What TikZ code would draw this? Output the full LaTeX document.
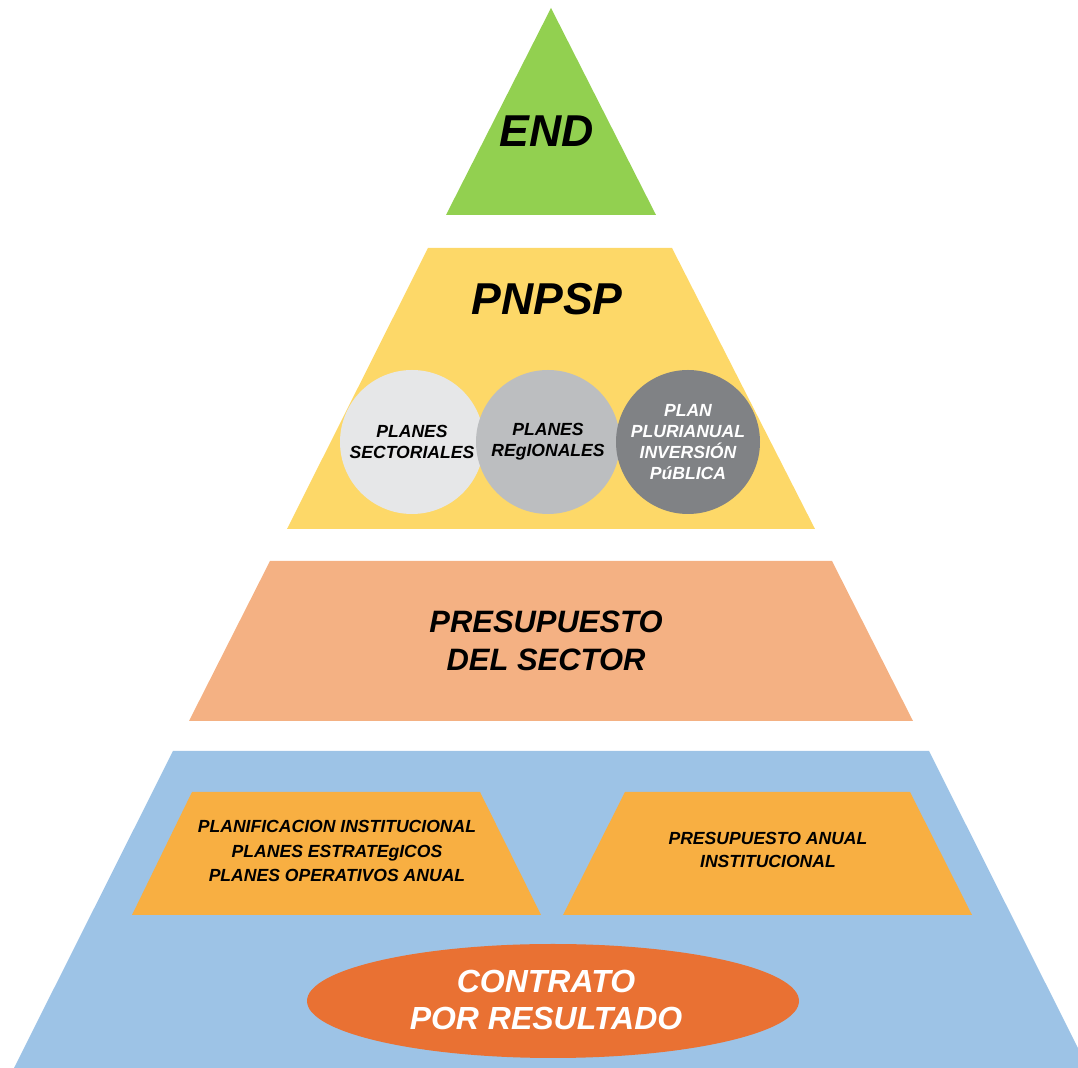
\documentclass[tikz,border=0pt]{standalone}
\usepackage{fontspec}
\setmainfont{Liberation Sans}
\usepackage{xcolor}
\definecolor{endgreen}{HTML}{92D050}
\definecolor{pnyellow}{HTML}{FDD868}
\definecolor{secsalmon}{HTML}{F4B183}
\definecolor{instblue}{HTML}{9DC3E6}
\definecolor{instorange}{HTML}{F8AF42}
\definecolor{contorange}{HTML}{E97133}
\definecolor{grayA}{HTML}{E6E7E8}
\definecolor{grayB}{HTML}{BCBEC0}
\definecolor{grayC}{HTML}{808285}

\begin{document}
\begin{tikzpicture}[x=0.1mm, y=-0.1mm,
    lbl/.style={align=center, inner sep=0pt},
    big/.style={lbl, font=\fontsize{12.7}{15}\selectfont\bfseries\itshape},
    mid/.style={lbl, font=\fontsize{8.8}{11}\selectfont\bfseries\itshape},
    small/.style={lbl, font=\fontsize{5}{6}\selectfont\bfseries\itshape},
    plan/.style={circle, inner sep=0pt, minimum size=14.4mm, align=center,
      font=\fontsize{5}{6}\selectfont\bfseries\itshape}]
  \useasboundingbox (0,0) rectangle (1078,1068);
  % top level
  \fill [endgreen] (551,8) -- (656,215) -- (446,215) -- cycle;
  \node [big] (endlbl) at (547,131) {END};
  % second level
  \fill [pnyellow] (428,248) -- (672,248) -- (815,529) -- (287,529) -- cycle;
  \node [big] (pnpsp) at (547,299) {PNPSP};
  \node [plan, fill=grayA] (sectoriales) at (412,442) {PLANES\\SECTORIALES};
  \node [plan, fill=grayB] (regionales) at (548,442) {PLANES\\REgIONALES};
  \node [plan, fill=grayC, text=white, font=\fontsize{5}{6}\selectfont\bfseries\itshape] (plurianual) at (688,442) {PLAN\\PLURIANUAL\\INVERSIÓN\\PúBLICA};
  % third level
  \fill [secsalmon] (270,561) -- (832,561) -- (913,721) -- (189,721) -- cycle;
  \node [mid] (sector) at (546,641) {PRESUPUESTO\\DEL SECTOR};
  % base
  \fill [instblue] (173,751) -- (929,751) -- (1088,1068) -- (14,1068) -- cycle;
  \fill [instorange] (192,792) -- (480,792) -- (541,915) -- (132,915) -- cycle;
  \node [small, font=\fontsize{5}{7}\selectfont\bfseries\itshape] (planinst) at (337,851) {PLANIFICACION INSTITUCIONAL\\PLANES ESTRATEgICOS\\PLANES OPERATIVOS ANUAL};
  \fill [instorange] (625,792) -- (910,792) -- (972,915) -- (563,915) -- cycle;
  \node [small, font=\fontsize{5}{6.8}\selectfont\bfseries\itshape] (presinst) at (768,850) {PRESUPUESTO ANUAL\\INSTITUCIONAL};
  \fill [contorange] (553,1001) ellipse [x radius=24.6mm, y radius=5.7mm];
  \node [mid, font=\fontsize{9.1}{10.8}\selectfont\bfseries\itshape, text=white] (contrato) at (546,1000) {CONTRATO\\POR RESULTADO};
\end{tikzpicture}
\end{document}
